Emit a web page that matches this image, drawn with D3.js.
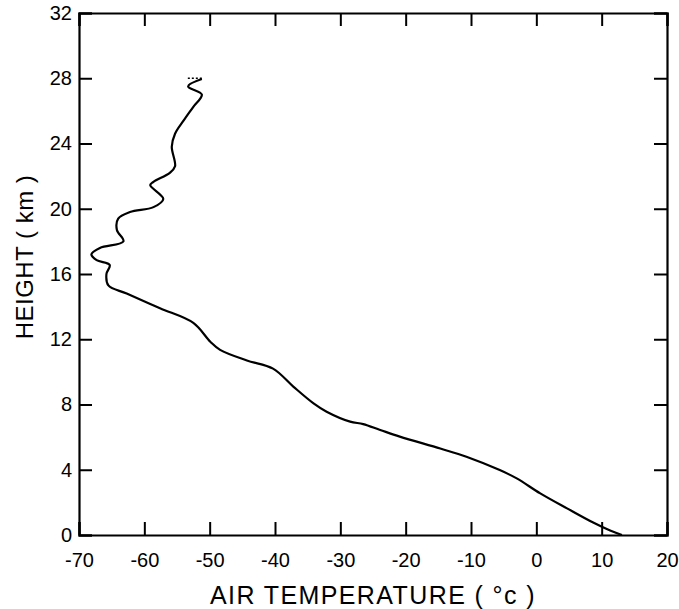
<!DOCTYPE html>
<html>
<head>
<meta charset="utf-8">
<script src="https://cdn.jsdelivr.net/npm/d3@7"></script>
<style>
  body { margin: 0; background: #fff; }
  svg { display: block; }
</style>
</head>
<body>
<script>
// sounding profile (ground up)
const temperature = [13.1, 11.3, 8.7, 4.7, 0.6, -3.0, -5.6, -10.7, -14.7, -20.9, -23.9, -26.5,
  -28.5, -32.1, -34.1, -37.2, -40.3, -44.3, -48.4, -49.9, -52.5, -57.6, -62.7, -65.5, -65.8,
  -65.3, -67.3, -68.1, -66.8, -63.2, -64.2, -64.0, -62.2, -58.6, -57.1, -59.1, -58.6, -56.1,
  -55.3, -55.8, -55.3, -54.0, -52.5, -51.2, -53.3, -51.2];
const height = [0, 0.27, 0.76, 1.63, 2.55, 3.47, 3.98, 4.8, 5.3, 6.03, 6.44, 6.8,
  6.95, 7.56, 8.07, 9.1, 10.2, 10.7, 11.35, 11.85, 13.0, 13.9, 14.8, 15.3, 16.0,
  16.55, 16.85, 17.2, 17.6, 18.0, 18.7, 19.4, 19.8, 20.1, 20.6, 21.45, 21.65, 22.2,
  22.6, 23.8, 24.6, 25.4, 26.25, 27.0, 27.5, 27.95];
// dotted bit at the top of the sounding
const topTemperature = [-51.2, -53.6];
const topHeight = [28.0, 28.0];

const xTicks = [-70, -60, -50, -40, -30, -20, -10, 0, 10, 20];
const yTicks = [0, 4, 8, 12, 16, 20, 24, 28, 32];

const W = 679;
const H = 609;
const margin = { top: 13, right: 12, bottom: 74, left: 79 };
const font = 'Liberation Sans, Arial, sans-serif';

const x = d3.scaleLinear().domain([-70, 20]).range([margin.left, W - margin.right]);
const y = d3.scaleLinear().domain([0, 32]).range([H - margin.bottom, margin.top]);

const svg = d3.select('body').append('svg')
  .attr('width', W)
  .attr('height', H);

// axes on all four sides, ticks pointing in
const tick = 13;
const fmt = (d) => String(d);

const gBottom = svg.append('g')
  .attr('transform', `translate(0, ${y(0)})`)
  .call(d3.axisBottom(x).tickValues(xTicks).tickFormat(fmt).tickSize(-tick).tickPadding(18));
const gLeft = svg.append('g')
  .attr('transform', `translate(${x(-70)}, 0)`)
  .call(d3.axisLeft(y).tickValues(yTicks).tickFormat(fmt).tickSize(-tick).tickPadding(7));
const gTop = svg.append('g')
  .attr('transform', `translate(0, ${y(32)})`)
  .call(d3.axisTop(x).tickValues(xTicks).tickFormat('').tickSize(-tick));
const gRight = svg.append('g')
  .attr('transform', `translate(${x(20)}, 0)`)
  .call(d3.axisRight(y).tickValues(yTicks).tickFormat('').tickSize(-tick));

[gBottom, gLeft, gTop, gRight].forEach((g) => {
  g.selectAll('path.domain').attr('stroke', '#000').attr('stroke-width', 2.2);
  g.selectAll('.tick line').attr('stroke', '#000').attr('stroke-width', 2);
  g.selectAll('.tick text')
    .attr('fill', '#000')
    .attr('font-family', font)
    .attr('font-size', 20);
});

// temperature profile
const pts = temperature.map((t, i) => [t, height[i]]);
const line = d3.line()
  .x((d) => x(d[0]))
  .y((d) => y(d[1]))
  .curve(d3.curveCatmullRom.alpha(0.5));

svg.append('path')
  .datum(pts)
  .attr('fill', 'none')
  .attr('stroke', '#000')
  .attr('stroke-width', 2.2)
  .attr('d', line);

svg.append('path')
  .datum(topTemperature.map((t, i) => [t, topHeight[i]]))
  .attr('fill', 'none')
  .attr('stroke', '#000')
  .attr('stroke-width', 1.5)
  .attr('stroke-dasharray', '2,2')
  .attr('d', d3.line().x((d) => x(d[0])).y((d) => y(d[1])));

// axis titles
svg.append('text')
  .attr('x', (x(-70) + x(20)) / 2)
  .attr('y', 604)
  .attr('text-anchor', 'middle')
  .attr('font-family', font)
  .attr('font-size', 25)
  .attr('letter-spacing', 1.4)
  .text('AIR TEMPERATURE  ( °c )');

svg.append('text')
  .attr('transform', `translate(33, 257) rotate(-90)`)
  .attr('text-anchor', 'middle')
  .attr('font-family', font)
  .attr('font-size', 24)
  .attr('letter-spacing', 0.5)
  .text('HEIGHT ( km )');
</script>
</body>
</html>
